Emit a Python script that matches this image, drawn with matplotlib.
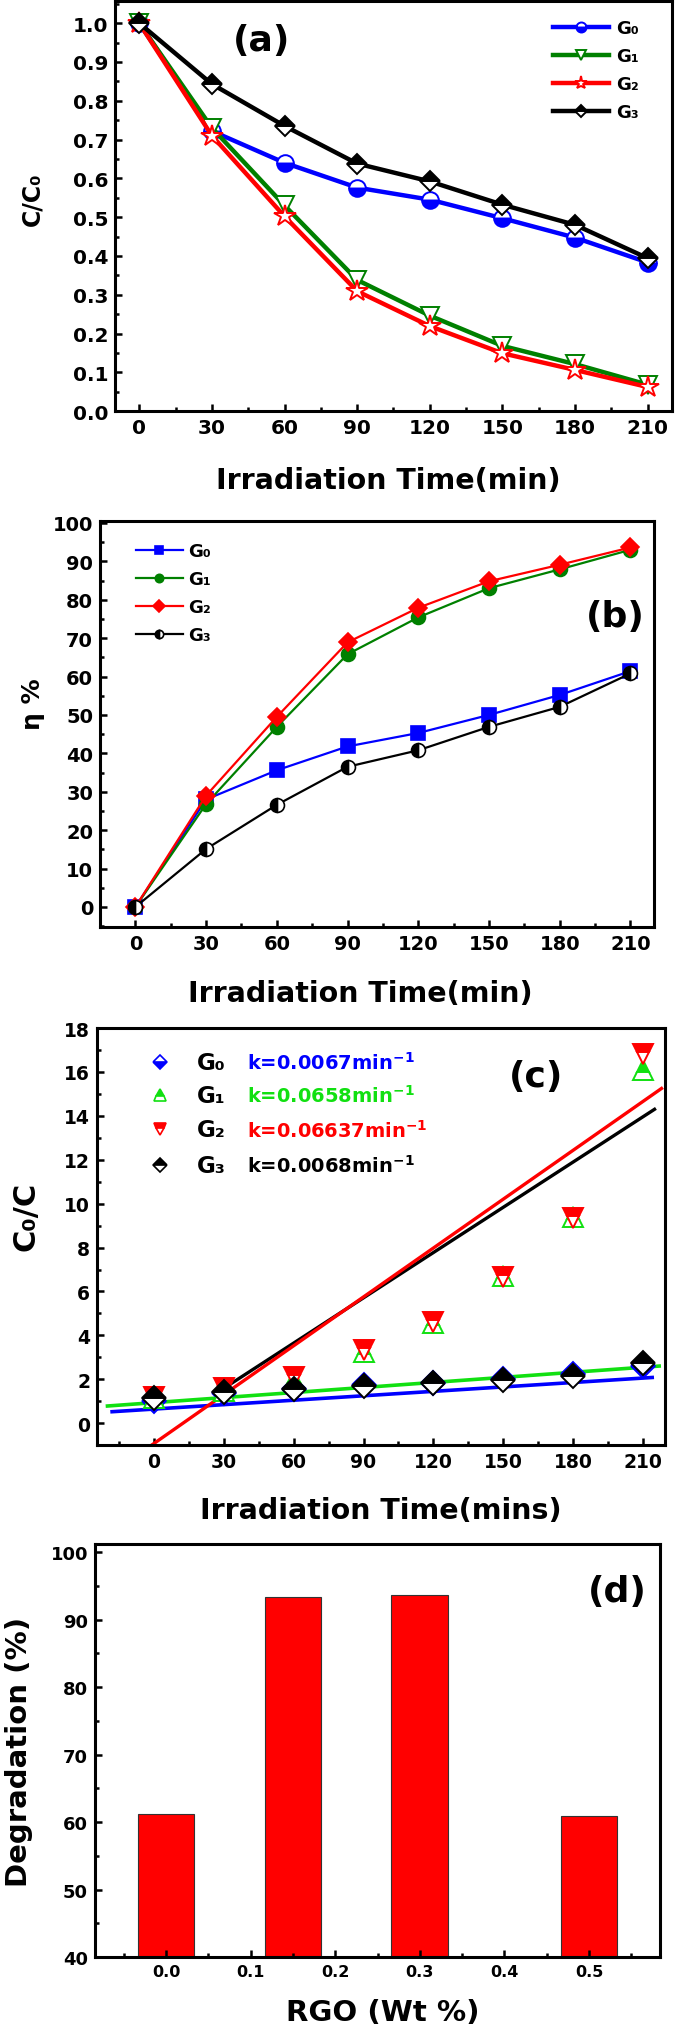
import matplotlib
matplotlib.use('Agg')
import matplotlib.pyplot as plt
from matplotlib.ticker import MultipleLocator

plt.rcParams['font.family'] = ['DejaVu Sans']
plt.rcParams['font.weight'] = 'bold'
plt.rcParams['mathtext.default'] = 'bf'

# ── data ─────────────────────────────────────────────────────────────────────
time = [0, 30, 60, 90, 120, 150, 180, 210]
labels = ['G₀', 'G₁', 'G₂', 'G₃']

# (a) C/C0
cc0_g0 = [1.00, 0.722, 0.640, 0.576, 0.545, 0.497, 0.447, 0.383]
cc0_g1 = [1.00, 0.730, 0.530, 0.338, 0.246, 0.168, 0.121, 0.068]
cc0_g2 = [1.00, 0.710, 0.502, 0.309, 0.219, 0.149, 0.106, 0.062]
cc0_g3 = [1.00, 0.843, 0.735, 0.638, 0.592, 0.532, 0.480, 0.394]

# (b) eta %
eta_g0 = [0, 28.0, 35.6, 41.8, 45.3, 50.0, 55.2, 61.4]
eta_g1 = [0, 26.8, 46.9, 65.8, 75.4, 83.0, 87.9, 93.0]
eta_g2 = [0, 29.0, 49.5, 68.9, 77.9, 84.8, 89.1, 93.6]
eta_g3 = [0, 15.1, 26.6, 36.5, 40.8, 46.9, 52.1, 60.8]

# (c) C0/C with linear fits
c0c_g0 = [1.00, 1.39, 1.56, 1.74, 1.84, 2.02, 2.24, 2.62]
c0c_g1 = [1.15, 1.45, 1.98, 3.25, 4.55, 6.70, 9.40, 16.1]
c0c_g2 = [1.20, 1.58, 2.10, 3.35, 4.60, 6.65, 9.35, 16.8]
c0c_g3 = [1.15, 1.40, 1.55, 1.70, 1.83, 1.98, 2.15, 2.72]
fit_x_g0, fit_y_g0 = [-18, 214], [0.52, 2.08]
fit_x_g1, fit_y_g1 = [-20, 217], [0.78, 2.60]
fit_x_g2, fit_y_g2 = [-1, 218], [-1.0, 15.25]
fit_x_g3, fit_y_g3 = [28, 215], [1.45, 14.30]
k_text = ['k=0.0067min$^{-1}$', 'k=0.0658min$^{-1}$',
          'k=0.06637min$^{-1}$', 'k=0.0068min$^{-1}$']

# (d) degradation vs RGO content
rgo = [0.0, 0.15, 0.30, 0.50]
degradation = [61.2, 93.4, 93.7, 60.9]

BLUE, GREEN, RED, BLACK = '#0000FF', '#008000', '#FF0000', '#000000'
LIME = '#11E011'

fig = plt.figure(figsize=(6.85, 20.31), dpi=100)
ax_a = fig.add_axes([0.1679, 0.7971, 0.8131, 0.2019])
ax_b = fig.add_axes([0.1460, 0.5431, 0.8088, 0.1999])
ax_c = fig.add_axes([0.1416, 0.2880, 0.8292, 0.2053])
ax_d = fig.add_axes([0.1387, 0.0359, 0.8248, 0.2033])


def style(ax, tsize=14):
    for s in ax.spines.values():
        s.set_linewidth(2.2)
    ax.tick_params(which='both', direction='in', top=False, right=False,
                   width=1.8, labelsize=tsize, pad=5)
    ax.tick_params(which='major', length=5)
    ax.tick_params(which='minor', length=3)


# ── (a) ──────────────────────────────────────────────────────────────────────
kw = dict(lw=3.2, mew=1.4)
ax_a.plot(time, cc0_g0, color=BLUE, marker='o', ms=12, fillstyle='bottom',
          mfc=BLUE, mfcalt='white', mec=BLUE, label=labels[0], **kw)
ax_a.plot(time, cc0_g1, color=GREEN, marker='v', ms=13, mfc='white',
          mec=GREEN, label=labels[1], **kw)
ax_a.plot(time, cc0_g2, color=RED, marker='*', ms=16, mfc='white',
          mec=RED, label=labels[2], **kw)
ax_a.plot(time, cc0_g3, color=BLACK, marker='D', ms=10, fillstyle='top',
          mfc=BLACK, mfcalt='white', mec=BLACK, label=labels[3], **kw)
ax_a.set_xlim(-10, 220)
ax_a.set_ylim(0, 1.057)
ax_a.xaxis.set_major_locator(MultipleLocator(30))
ax_a.xaxis.set_minor_locator(MultipleLocator(15))
ax_a.yaxis.set_major_locator(MultipleLocator(0.1))
ax_a.yaxis.set_minor_locator(MultipleLocator(0.05))
ax_a.yaxis.set_major_formatter(lambda v, p: f'{v:.1f}')
style(ax_a, 14.5)
ax_a.set_xlabel('Irradiation Time(min)', fontsize=20.5, fontweight='bold')
ax_a.xaxis.set_label_coords(0.49, -0.135)
ax_a.set_ylabel('C/C₀', fontsize=17, fontweight='bold')
ax_a.yaxis.set_label_coords(-0.127, 0.52)
ax_a.text(0.264, 0.905, '(a)', transform=ax_a.transAxes, fontsize=26,
          fontweight='bold', ha='center', va='center')
ax_a.legend(loc='upper left', bbox_to_anchor=(0.786, 0.955), frameon=False,
            fontsize=13, handlelength=3.1, handletextpad=0.4,
            labelspacing=0.55, borderpad=0, borderaxespad=0, markerscale=0.6)

# ── (b) ──────────────────────────────────────────────────────────────────────
kw = dict(lw=1.6, mew=1.2)
ax_b.plot(time, eta_g0, color=BLUE, marker='s', ms=9.5, mfc=BLUE, mec=BLUE,
          label=labels[0], **kw)
ax_b.plot(time, eta_g1, color=GREEN, marker='o', ms=10, mfc=GREEN, mec=GREEN,
          label=labels[1], **kw)
ax_b.plot(time, eta_g2, color=RED, marker='D', ms=9.5, mfc=RED, mec=RED,
          label=labels[2], **kw)
ax_b.plot(time, eta_g3, color=BLACK, marker='o', ms=10, fillstyle='left',
          mfc=BLACK, mfcalt='white', mec=BLACK, label=labels[3], **kw)
ax_b.set_xlim(-15, 220)
ax_b.set_ylim(-5.2, 100.5)
ax_b.xaxis.set_major_locator(MultipleLocator(30))
ax_b.xaxis.set_minor_locator(MultipleLocator(15))
ax_b.yaxis.set_major_locator(MultipleLocator(10))
ax_b.yaxis.set_minor_locator(MultipleLocator(5))
style(ax_b, 14)
ax_b.set_xlabel('Irradiation Time(min)', fontsize=20.5, fontweight='bold')
ax_b.xaxis.set_label_coords(0.47, -0.128)
ax_b.set_ylabel('η %', fontsize=18, fontweight='bold')
ax_b.yaxis.set_label_coords(-0.1, 0.55)
ax_b.text(0.931, 0.766, '(b)', transform=ax_b.transAxes, fontsize=26,
          fontweight='bold', ha='center', va='center')
ax_b.legend(loc='upper left', bbox_to_anchor=(0.065, 0.948), frameon=False,
            fontsize=13, handlelength=2.6, handletextpad=0.3,
            labelspacing=0.55, borderpad=0, borderaxespad=0, markerscale=0.6)

# ── (c) ──────────────────────────────────────────────────────────────────────
ax_c.plot(fit_x_g0, fit_y_g0, color=BLUE, lw=2.6)
ax_c.plot(fit_x_g1, fit_y_g1, color=LIME, lw=2.6)
ax_c.plot(fit_x_g3, fit_y_g3, color=BLACK, lw=2.4)
ax_c.plot(fit_x_g2, fit_y_g2, color=RED, lw=2.4)

c_markers = [('D', 'bottom', BLUE, 12), ('^', 'top', LIME, 15),
             ('v', 'top', RED, 15), ('D', 'top', BLACK, 12)]
c_series = [c0c_g0, c0c_g1, c0c_g2, c0c_g3]
k_colors = [BLUE, LIME, RED, BLACK]
leg_rows = [0.918, 0.839, 0.757, 0.671]
for (m, fs, col, ms), ys in zip(c_markers, c_series):
    ax_c.plot(time, ys, ls='none', marker=m, ms=ms, fillstyle=fs, mfc=col,
              mfcalt='white', mec=col, mew=1.4)
for (m, fs, col, ms), lab, kt, kc, yr in zip(c_markers, labels, k_text,
                                              k_colors, leg_rows):
    ax_c.plot([0.111], [yr], transform=ax_c.transAxes, ls='none', marker=m,
              ms=ms * 0.62, fillstyle=fs, mfc=col, mfcalt='white', mec=col,
              mew=1.2, clip_on=False)
    ax_c.text(0.176, yr, lab, transform=ax_c.transAxes, fontsize=16.5,
              fontweight='bold', va='center', ha='left')
    ax_c.text(0.264, yr, kt, transform=ax_c.transAxes, fontsize=14,
              fontweight='bold', va='center', ha='left', color=kc)
ax_c.set_xlim(-24.5, 219.5)
ax_c.set_ylim(-1, 18)
ax_c.xaxis.set_major_locator(MultipleLocator(30))
ax_c.xaxis.set_minor_locator(MultipleLocator(15))
ax_c.yaxis.set_major_locator(MultipleLocator(2))
ax_c.yaxis.set_minor_locator(MultipleLocator(1))
style(ax_c, 13.5)
ax_c.set_xlabel('Irradiation Time(mins)', fontsize=20.5, fontweight='bold')
ax_c.xaxis.set_label_coords(0.5, -0.123)
ax_c.set_ylabel('C₀/C', fontsize=22, fontweight='bold')
ax_c.yaxis.set_label_coords(-0.1, 0.55)
ax_c.text(0.773, 0.885, '(c)', transform=ax_c.transAxes, fontsize=26,
          fontweight='bold', ha='center', va='center')

# ── (d) ──────────────────────────────────────────────────────────────────────
ax_d.bar(rgo, [v - 40 for v in degradation], bottom=40, width=0.067,
         color=RED, edgecolor='#333333', linewidth=0.8)
ax_d.set_xlim(-0.084, 0.584)
ax_d.set_ylim(40, 101.2)
ax_d.xaxis.set_major_locator(MultipleLocator(0.1))
ax_d.xaxis.set_minor_locator(MultipleLocator(0.05))
ax_d.xaxis.set_major_formatter(lambda v, p: f'{v:.1f}')
ax_d.yaxis.set_major_locator(MultipleLocator(10))
ax_d.yaxis.set_minor_locator(MultipleLocator(5))
style(ax_d, 13)
ax_d.tick_params(axis='x', labelsize=11.5)
ax_d.set_xlabel('RGO (Wt %)', fontsize=21, fontweight='bold')
ax_d.xaxis.set_label_coords(0.51, -0.1)
ax_d.set_ylabel('Degradation (%)', fontsize=21, fontweight='bold')
ax_d.yaxis.set_label_coords(-0.11, 0.5)
ax_d.text(0.924, 0.886, '(d)', transform=ax_d.transAxes, fontsize=26,
          fontweight='bold', ha='center', va='center')

fig.savefig('out.png', dpi=100, facecolor='white')
